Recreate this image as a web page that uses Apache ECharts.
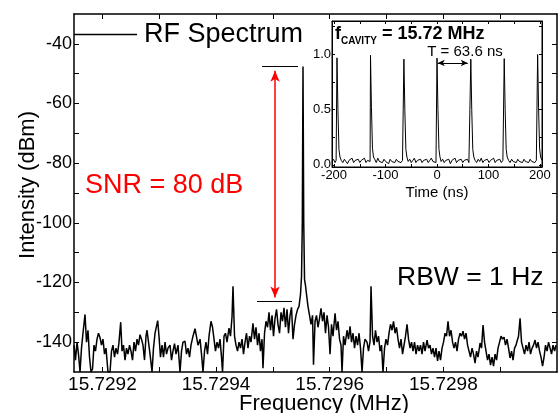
<!DOCTYPE html>
<html><head><meta charset="utf-8">
<script src="https://cdn.jsdelivr.net/npm/echarts@6/dist/echarts.min.js"></script>
<style>html,body{margin:0;padding:0;background:#fff}#c{width:558px;height:413px}</style>
</head><body><div id="c"></div>
<script>
// ---- RF spectrum (sweep start in MHz, points as [offset Hz, dBm]) ----
const rfStartMHz = 15.72915;
const rfEndMHz = 15.73;
const rfTrace = [[0,-141],[2.6,-146],[5.3,-140],[7.9,-144],[10.6,-150],[13.2,-142],[15.8,-137],[19.4,-130.7],[22.0,-140],[24.6,-136],[27.3,-145],[29.9,-150],[32.6,-149],[35.2,-141],[37.8,-143],[40.5,-139],[43.1,-137],[45.8,-138.5],[48.4,-141],[51.0,-139],[53.7,-144],[56.3,-142],[59.8,-150],[63.4,-150],[66.0,-143],[68.6,-141],[71.3,-145],[73.9,-142],[76.6,-144],[79.2,-140],[82.2,-133.3],[84.5,-143],[87.1,-141],[89.8,-146],[92.4,-142],[95.0,-144],[97.7,-141],[100.3,-143],[103.0,-146],[105.6,-140],[108.2,-143],[110.9,-139],[113.5,-141],[116.2,-137.5],[118.8,-139],[121.4,-141],[124.1,-146],[126.7,-138],[128.5,-136],[131.1,-140],[133.8,-144],[137.3,-150],[139.9,-142],[142.6,-137],[145.2,-136.7],[147.3,-132.8],[149.6,-138],[152.2,-145],[154.9,-141],[157.5,-145],[160.2,-140],[162.8,-144],[165.4,-142],[169.0,-141],[171.6,-146],[174.2,-143],[176.9,-140.5],[179.5,-144],[183.0,-141],[186.6,-150],[189.2,-143],[191.8,-140],[195.4,-139.7],[198.0,-144],[200.6,-142],[203.3,-145],[205.9,-141],[209.4,-138],[213.0,-135.5],[215.6,-136],[218.2,-141],[221.8,-139],[224.4,-144],[227.0,-150],[229.7,-143],[232.3,-140],[235.0,-144],[237.6,-138],[241.1,-133],[243.8,-135],[246.4,-139],[249.0,-143],[251.7,-140],[254.3,-142],[257.0,-139],[259.6,-145],[261.4,-150],[264.0,-138],[266.6,-137],[269.3,-140],[272.8,-135.3],[275.4,-138],[278.1,-131.5],[279.8,-121.3],[282.5,-138],[285.1,-141],[287.8,-143],[290.4,-140],[293.0,-142],[295.7,-139],[298.3,-144],[301.0,-140],[303.6,-137],[306.2,-142],[308.9,-138],[311.5,-140],[315.0,-133.7],[317.7,-139],[320.3,-135],[323.0,-141],[325.6,-137],[328.2,-143],[330.9,-139],[332.6,-148.7],[335.3,-137],[337.9,-133],[340.6,-135],[343.2,-130],[345.8,-136],[348.5,-131],[351.1,-138],[353.8,-132],[356.4,-129],[359.0,-134],[361.7,-137],[364.3,-130],[367.0,-133],[369.6,-128.5],[372.2,-135],[374.9,-129],[377.5,-137],[380.2,-131],[382.8,-128.3],[385.4,-139],[388.1,-134],[390.7,-131],[393.4,-129],[396.0,-128],[398.6,-124],[400.4,-118],[401.8,-100],[403.0,-47.6],[404.3,-100],[405.7,-119],[407.4,-121],[409.2,-124],[411.8,-128],[414.5,-131],[417.1,-134],[419.8,-131],[421.5,-147.6],[424.2,-133],[426.8,-131],[429.4,-135],[432.1,-132],[434.7,-128.7],[437.4,-133],[440.0,-130],[442.6,-137],[445.3,-131],[447.9,-135],[450.6,-144],[453.2,-134],[455.8,-138],[459.4,-130.3],[462.0,-136],[464.6,-133],[467.3,-139],[469.9,-141],[471.7,-150],[474.3,-138],[477.0,-141],[480.5,-136],[483.1,-139],[485.8,-134.7],[488.4,-140],[491.0,-137],[493.7,-142],[496.3,-138],[499.0,-141],[501.6,-137],[504.2,-142],[506.9,-150],[509.5,-142],[512.2,-139],[515.7,-140],[518.3,-143],[521.0,-139.7],[522.7,-121.3],[525.4,-138],[528.0,-141],[530.6,-136],[533.3,-140],[535.9,-138],[538.6,-143],[541.2,-141],[543.8,-150],[546.5,-142],[549.1,-139],[551.8,-141],[554.4,-137],[557.0,-134],[559.7,-136],[562.3,-133],[565.0,-137],[567.6,-135],[570.2,-139],[572.9,-142],[575.5,-139],[578.2,-144],[580.8,-141],[583.4,-138],[586.1,-134],[588.7,-139],[591.4,-142],[594.0,-140],[596.6,-143],[599.3,-140],[601.9,-144],[604.6,-141],[607.2,-143],[609.8,-141],[612.5,-144],[615.1,-140],[617.8,-143],[621.3,-139.3],[623.9,-142],[626.6,-141],[629.2,-144],[631.8,-142],[634.5,-145],[637.1,-142],[639.8,-146.3],[642.4,-143],[645.0,-146],[647.7,-142],[650.3,-140],[653.0,-137],[655.6,-138],[658.2,-133],[660.9,-138],[663.5,-136],[666.2,-140],[668.8,-142],[671.4,-140],[674.1,-143],[676.7,-139],[679.4,-137],[682.0,-138],[684.6,-136.3],[687.3,-139],[689.9,-137],[692.6,-141],[695.2,-143],[697.8,-145],[700.5,-142],[703.1,-144],[705.8,-147],[708.4,-143],[711.0,-145],[714.6,-140.3],[717.2,-142],[719.8,-134.3],[722.5,-140],[725.1,-143],[727.8,-146],[730.4,-144],[733.0,-147.7],[735.7,-145],[738.3,-148],[741.0,-144],[743.6,-146],[746.2,-142],[748.9,-140],[751.5,-138],[754.2,-139],[756.8,-138.3],[759.4,-141],[762.1,-139],[764.7,-142],[767.4,-145.3],[770.0,-143],[772.6,-146],[775.3,-142],[777.9,-141],[779.7,-139.7],[782.3,-138],[785.0,-132],[787.6,-140],[790.2,-142],[792.9,-144],[795.5,-141],[798.2,-143],[800.8,-140],[803.4,-144],[806.1,-142],[808.7,-141],[811.4,-139.3],[814.0,-142],[816.6,-140],[819.3,-143],[821.9,-145],[824.6,-148],[827.2,-145],[829.8,-141],[832.5,-143],[835.1,-140],[837.8,-142],[840.4,-144],[843.0,-141],[845.7,-143],[848.3,-141]];

const freqTickLabels = [15.7292, 15.7294, 15.7296, 15.7298];
const freqTicks = [15.7292, 15.7293, 15.7294, 15.7295, 15.7296, 15.7297, 15.7298, 15.7299];
const dbmMin = -150, dbmMax = -30;
const dbmTickLabels = [-140, -120, -100, -80, -60, -40];
const dbmTicks = [-140, -130, -120, -110, -100, -90, -80, -70, -60, -50, -40];

// SNR annotation (MHz, dBm)
const snrArrowMHz = 15.7295038;
const snrArrowDbm = [-49, -125];
const snrTopLineMHz = [15.7294809, 15.7295442], snrTopDbm = -47.6;
const snrFloorLineMHz = [15.729472, 15.7295337], snrFloorDbm = -126.4;

// ---- Inset: pulse train (ns, normalized) ----
const timeMin = -204, timeMax = 204;
const pulseTrace = [[-204,0.03],[-201,0.05],[-198,0.02],[-196,0.04],
[-195,0.04],[-194.3,0.967],[-192.5,0.5],[-190.5,0.14],[-188.5,0.07],
[-186,0.04],[-183,0.02],[-180,0.05],[-177,0.03],[-174,0.01],[-171,0.04],[-168,0.03],[-165,0.06],[-162,0.02],[-159,0.04],[-156,0.03],[-153,0.05],[-150,0.02],[-147,0.04],[-144,0.03],[-141,0.06],[-138,0.02],[-135,0.04],[-132,0.05],
[-130,0.03],[-129.2,0.99],[-127.4,0.52],[-125.4,0.15],[-123.4,0.07],
[-121,0.05],[-118,0.02],[-115,0.06],[-112,0.03],[-109,0.04],[-106,0.02],[-103,0.05],[-100,0.03],[-97,0.04],[-94,0.01],[-91,0.05],[-88,0.03],[-85,0.04],[-82,0.02],[-79,0.05],[-76,0.03],[-73,0.04],[-70,0.02],[-67,0.04],
[-65.1,0.03],[-64.3,0.955],[-62.5,0.5],[-60.5,0.14],[-58.5,0.07],
[-56,0.03],[-53,0.05],[-50,0.02],[-47,0.04],[-44,0.06],[-41,0.02],[-38,0.04],[-35,0.03],[-32,0.05],[-29,0.02],[-26,0.04],[-23,0.03],[-20,0.05],[-17,0.02],[-14,0.04],[-11,0.06],[-8,0.03],[-5,0.04],[-2,0.02],
[-0.8,0.03],[0,0.965],[1.8,0.5],[3.8,0.14],[5.8,0.07],
[8,0.03],[11,0.05],[14,0.02],[17,0.04],[20,0.03],[23,0.05],[26,0.01],[29,0.04],[32,0.03],[35,0.06],[38,0.02],[41,0.04],[44,0.03],[47,0.05],[50,0.02],[53,0.04],[56,0.03],[59,0.05],[62,0.02],
[64.9,0.03],[65.7,0.955],[67.5,0.5],[69.5,0.14],[71.5,0.07],
[74,0.04],[77,0.02],[80,0.05],[83,0.03],[86,0.06],[89,0.02],[92,0.04],[95,0.03],[98,0.05],[101,0.02],[104,0.04],[107,0.03],[110,0.06],[113,0.02],[116,0.04],[119,0.03],[122,0.05],[125,0.02],[128,0.04],
[129.8,0.03],[130.6,0.96],[132.4,0.5],[134.4,0.14],[136.4,0.07],
[139,0.04],[142,0.02],[145,0.05],[148,0.03],[151,0.04],[154,0.02],[157,0.05],[160,0.03],[163,0.04],[166,0.02],[169,0.05],[172,0.03],[175,0.04],[178,0.02],[181,0.05],[184,0.03],[187,0.04],[190,0.02],[193,0.04],
[194.7,0.03],[195.5,0.997],[197.3,0.52],[199.3,0.15],[201.3,0.07],[204,0.04]];
const timeTickLabels = [-200, -100, 0, 100, 200];
const timeTicks = [-200, -150, -100, -50, 0, 50, 100, 150, 200];
const ampMin = -0.02, ampMax = 1.3;
const ampTickLabels = [0, 0.5, 1.0];
const ampTicks = [0, 0.25, 0.5, 0.75, 1.0, 1.25];
const periodArrowNs = [1.4, 59.8], periodArrowAmp = 0.92;

const FONT = 'Liberation Sans, Arial, sans-serif';
const rfData = rfTrace.map(p => [rfStartMHz + p[0] * 1e-6, p[1]]);

const chart = echarts.init(document.getElementById('c'), null, {renderer: 'canvas'});
const blk = '#000';

chart.setOption({
  animation: false,
  backgroundColor: '#fff',
  textStyle: {fontFamily: FONT},
  grid: [
    {left: 74, top: 14, width: 483, height: 358, show: false, containLabel: false, outerBoundsMode: 'none'},
    {left: 332, top: 21, width: 210, height: 146, show: true, backgroundColor: '#fff', borderColor: blk, borderWidth: 1, z: 5, containLabel: false, outerBoundsMode: 'none'}
  ],
  legend: {
    left: 74, top: 21, padding: 0, itemWidth: 63, itemHeight: 1.5, itemGap: 5,
    textStyle: {fontSize: 27, color: blk, fontFamily: FONT, padding: [0, 0, 0, 2]},
    data: [{name: 'RF Spectrum', icon: 'rect', itemStyle: {color: blk}}]
  },
  xAxis: [
    {type: 'value', gridIndex: 0, min: rfStartMHz, max: rfEndMHz, position: 'bottom',
     axisLine: {show: true, onZero: false, lineStyle: {color: blk, width: 1.5}},
     axisTick: {show: true, inside: true, length: 5, customValues: freqTicks, lineStyle: {color: blk}},
     axisLabel: {customValues: freqTickLabels, formatter: v => v.toFixed(4), fontSize: 19, color: blk, margin: 3, fontFamily: FONT},
     splitLine: {show: false},
     name: 'Frequency (MHz)', nameLocation: 'middle', nameGap: 21, nameMoveOverlap: false,
     nameTextStyle: {fontSize: 22, color: blk, fontFamily: FONT, padding: [0, 0, 0, 17]}},
    {type: 'value', gridIndex: 0, min: rfStartMHz, max: rfEndMHz, position: 'top',
     axisLine: {show: true, onZero: false, lineStyle: {color: blk, width: 1.5}},
     axisTick: {show: true, inside: true, length: 5, customValues: freqTicks, lineStyle: {color: blk}},
     axisLabel: {show: false}, splitLine: {show: false}},
    {type: 'value', gridIndex: 1, min: timeMin, max: timeMax, position: 'bottom', z: 6,
     axisLine: {show: true, onZero: false, lineStyle: {color: blk, width: 1}},
     axisTick: {show: true, inside: true, length: 3, customValues: timeTicks, lineStyle: {color: blk}},
     axisLabel: {customValues: timeTickLabels, fontSize: 13, color: blk, margin: 2, fontFamily: FONT},
     splitLine: {show: false},
     name: 'Time (ns)', nameLocation: 'middle', nameGap: 18, nameMoveOverlap: false,
     nameTextStyle: {fontSize: 15, color: blk, fontFamily: FONT}},
    {type: 'value', gridIndex: 1, min: timeMin, max: timeMax, position: 'top', z: 6,
     axisLine: {show: true, onZero: false, lineStyle: {color: blk, width: 1}},
     axisTick: {show: true, inside: true, length: 3, customValues: timeTicks, lineStyle: {color: blk}},
     axisLabel: {show: false}, splitLine: {show: false}}
  ],
  yAxis: [
    {type: 'value', gridIndex: 0, min: dbmMin, max: dbmMax, position: 'left',
     axisLine: {show: true, onZero: false, lineStyle: {color: blk, width: 1.5}},
     axisTick: {show: true, inside: true, length: 5, customValues: dbmTicks, lineStyle: {color: blk}},
     axisLabel: {customValues: dbmTickLabels, fontSize: 18, color: blk, margin: 2, fontFamily: FONT},
     splitLine: {show: false},
     name: 'Intensity (dBm)', nameLocation: 'middle', nameGap: 35, nameMoveOverlap: false,
     nameTextStyle: {fontSize: 22, color: blk, fontFamily: FONT, padding: [0, 0, 0, 16]}},
    {type: 'value', gridIndex: 0, min: dbmMin, max: dbmMax, position: 'right',
     axisLine: {show: true, onZero: false, lineStyle: {color: blk, width: 1.5}},
     axisTick: {show: true, inside: true, length: 5, customValues: dbmTicks, lineStyle: {color: blk}},
     axisLabel: {show: false}, splitLine: {show: false}},
    {type: 'value', gridIndex: 1, min: ampMin, max: ampMax, position: 'left', z: 6,
     axisLine: {show: true, onZero: false, lineStyle: {color: blk, width: 1}},
     axisTick: {show: true, inside: true, length: 3, customValues: ampTicks, lineStyle: {color: blk}},
     axisLabel: {customValues: ampTickLabels, formatter: v => v.toFixed(1), fontSize: 13, color: blk, margin: 1, fontFamily: FONT},
     splitLine: {show: false}},
    {type: 'value', gridIndex: 1, min: ampMin, max: ampMax, position: 'right', z: 6,
     axisLine: {show: true, onZero: false, lineStyle: {color: blk, width: 1}},
     axisTick: {show: true, inside: true, length: 3, customValues: ampTicks, lineStyle: {color: blk}},
     axisLabel: {show: false}, splitLine: {show: false}}
  ],
  series: [
    {name: 'RF Spectrum', type: 'line', xAxisIndex: 0, yAxisIndex: 0, data: rfData,
     symbol: 'none', lineStyle: {color: blk, width: 1.5}, itemStyle: {color: blk},
     clip: true,
     markLine: {
       silent: true, animation: false, symbol: ['none', 'none'], label: {show: false},
       data: [
         [{coord: [snrArrowMHz, snrArrowDbm[0]], symbol: 'arrow', symbolSize: [7, 11]},
          {coord: [snrArrowMHz, snrArrowDbm[1]], symbol: 'arrow', symbolSize: [7, 11],
           lineStyle: {color: '#ff0000', width: 1.5, type: 'solid'}}],
         [{coord: [snrTopLineMHz[0], snrTopDbm]},
          {coord: [snrTopLineMHz[1], snrTopDbm], lineStyle: {color: blk, width: 1.2, type: 'solid'}}],
         [{coord: [snrFloorLineMHz[0], snrFloorDbm]},
          {coord: [snrFloorLineMHz[1], snrFloorDbm], lineStyle: {color: blk, width: 1.2, type: 'solid'}}]
       ]
     }},
    {name: 'Pulse train', type: 'line', xAxisIndex: 2, yAxisIndex: 2, data: pulseTrace,
     symbol: 'none', lineStyle: {color: blk, width: 1}, z: 7,
     markLine: {
       silent: true, animation: false, label: {show: false},
       symbol: ['arrow', 'arrow'], symbolSize: [5, 7],
       lineStyle: {color: blk, width: 1, type: 'solid'},
       data: [[{coord: [periodArrowNs[0], periodArrowAmp]}, {coord: [periodArrowNs[1], periodArrowAmp]}]]
     }}
  ],
  graphic: [
    {type: 'text', x: 85, y: 186, z: 10, style: {text: 'SNR = 80 dB', fill: '#ff0000', fontSize: 27, fontFamily: FONT, verticalAlign: 'middle', align: 'left'}},
    {type: 'text', x: 397, y: 278, z: 10, style: {text: 'RBW = 1 Hz', fill: blk, fontSize: 26.5, fontFamily: FONT, verticalAlign: 'middle', align: 'left'}},
    {type: 'text', x: 465, y: 52, z: 10, style: {text: 'T = 63.6 ns', fill: blk, fontSize: 15, fontFamily: FONT, verticalAlign: 'middle', align: 'center'}},
    {type: 'text', x: 335, y: 33, z: 10, style: {
      text: '{m|f}{s|CAVITY}{m| = 15.72 MHz}', fill: blk, verticalAlign: 'middle', align: 'left',
      rich: {
        m: {fontSize: 18, fontWeight: 'bold', fontFamily: FONT, fill: blk, verticalAlign: 'bottom', lineHeight: 20},
        s: {fontSize: 10, fontWeight: 'bold', fontFamily: FONT, fill: blk, verticalAlign: 'bottom', lineHeight: 20, padding: [0, 0, -3, 0]}
      }}}
  ]
});
</script></body></html>
